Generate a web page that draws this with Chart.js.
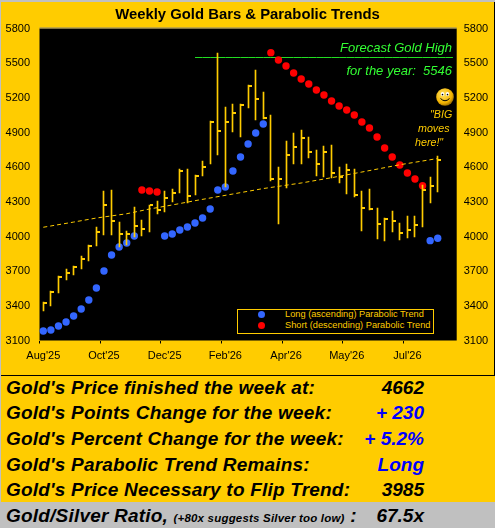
<!DOCTYPE html>
<html>
<head>
<meta charset="utf-8">
<title>Weekly Gold Bars &amp; Parabolic Trends</title>
<script src="https://cdn.jsdelivr.net/npm/chart.js@4"></script>
<style>
    html, body { margin: 0; padding: 0; background: #c0c0c0; }
    body { width: 495px; height: 528px; position: relative; overflow: hidden; font-family: "Liberation Sans", Arial, sans-serif; }
    #frame { position: absolute; left: 1px; top: 2px; width: 493px; height: 373px; background: #ffcc00; }
    #frame canvas { display: block; }
    #edge { position: absolute; left: 1px; top: 375px; width: 494px; height: 1px; background: #000; }
    #edgeR { position: absolute; left: 494px; top: 2px; width: 1px; height: 374px; background: #000; }
    .note { position: absolute; white-space: nowrap; font-style: italic; }
    .green { color: #33ff33; font-size: 13px; right: 43px; }
    .saying { color: #ffcc00; font-size: 10.7px; }
    #smiley { position: absolute; left: 436px; top: 88px; width: 18px; height: 18px; }
    #legendBox { position: absolute; left: 237px; top: 309px; width: 195px; height: 23px; border: 1px solid #ffcc00; background: #000; }
    .legendRow { position: absolute; left: 285px; color: #ffcc00; font-size: 9.25px; line-height: 11px; white-space: nowrap; }
    .legendDot { position: absolute; left: 258px; width: 7px; height: 7px; border-radius: 50%; }
    #panel { position: absolute; left: 1px; top: 376px; width: 494px; height: 126px; background: #ffcc00; }
    #ratioBand { position: absolute; left: 1px; top: 502px; width: 494px; height: 26px; background: #c0c0c0; }
    .row { position: absolute; left: 6px; font-size: 19px; line-height: 20px; letter-spacing: 0.2px; font-weight: bold; font-style: italic; color: #000; white-space: nowrap; }
    .val { position: absolute; right: 71px; font-size: 19px; line-height: 20px; font-weight: bold; font-style: italic; white-space: nowrap; color: #000; }
    .blue { color: #0000ff; }
    .small { font-size: 11.5px; }
</style>
</head>
<body>
<div id="frame"><canvas id="goldChart" width="493" height="373"></canvas></div>
<div id="edge"></div>
<div id="edgeR"></div>

<div class="note green" style="top:40px">Forecast Gold High</div>
<div class="note green" style="top:63px">for the year:&nbsp; 5546</div>
<svg id="smiley" viewBox="0 0 18 18">
    <defs><radialGradient id="sm" cx="40%" cy="35%" r="70%"><stop offset="0" stop-color="#ffe566"/><stop offset="0.7" stop-color="#f2b200"/><stop offset="1" stop-color="#8a6000"/></radialGradient></defs>
    <circle cx="9" cy="9" r="8.8" fill="url(#sm)"/>
    <ellipse cx="6.5" cy="6" rx="1.7" ry="1.9" fill="#fff"/><ellipse cx="11.5" cy="6" rx="1.7" ry="1.9" fill="#fff"/>
    <circle cx="6.5" cy="6.6" r="0.8" fill="#000"/><circle cx="11.5" cy="6.6" r="0.8" fill="#000"/>
    <path d="M4.5 10.5 Q9 15 13.5 10.5" stroke="#000" stroke-width="1" fill="none"/>
</svg>
<div class="note saying" style="left:430px;top:108px">"BIG</div>
<div class="note saying" style="left:418px;top:122px">moves</div>
<div class="note saying" style="left:415px;top:136px">here!"</div>

<div id="legendBox"></div>
<span class="legendDot" style="top:311px;background:#3366ff"></span>
<span class="legendDot" style="top:322px;background:#ff0000"></span>
<div class="legendRow" style="top:309px">Long (ascending) Parabolic Trend</div>
<div class="legendRow" style="top:320px">Short (descending) Parabolic Trend</div>

<div id="panel"></div>
<div id="ratioBand"></div>
<div class="row" style="top:378px">Gold's Price finished the week at:</div><div class="val" style="top:378px">4662</div>
<div class="row" style="top:403px">Gold's Points Change for the week:</div><div class="val blue" style="top:403px">+ 230</div>
<div class="row" style="top:429px">Gold's Percent Change for the week:</div><div class="val blue" style="top:429px">+ 5.2%</div>
<div class="row" style="top:455px">Gold's Parabolic Trend Remains:</div><div class="val blue" style="top:455px">Long</div>
<div class="row" style="top:480px">Gold's Price Necessary to Flip Trend:</div><div class="val" style="top:480px">3985</div>
<div class="row" style="top:506px">Gold/Silver Ratio, <span class="small">(+80x suggests Silver too low)</span> :</div><div class="val" style="top:506px">67.5x</div>

<script>
// x axis: 55 weekly slots, the last two stay empty
const categories = [
    "Aug'25", '', '', '', '', '', '', '',
    "Oct'25", '', '', '', '', '', '', '',
    "Dec'25", '', '', '', '', '', '', '',
    "Feb'26", '', '', '', '', '', '', '',
    "Apr'26", '', '', '', '', '', '', '',
    "May'26", '', '', '', '', '', '', '',
    "Jul'26", '', '', '', '', '', ''
];

const weekHighs = [3431, 3526, 3656, 3719, 3742, 3831, 3924, 4082, 4394, 4402, 4125, 4048, 4253, 4143, 4273, 4305, 4394, 4411, 4584, 4584, 4530, 4653, 5000, 5588, 5121, 5144, 5144, 5308, 5441, 5250, 5051, 4601, 4826, 4896, 4922, 4861, 4749, 4783, 4792, 4601, 4627, 4584, 4394, 4411, 4247, 4160, 4221, 4117, 4177, 4177, 4446, 4515, 4697];
const weekLows = [3355, 3399, 3511, 3624, 3667, 3719, 3788, 3918, 4016, 4016, 3912, 3926, 3993, 4004, 4039, 4195, 4209, 4299, 4376, 4292, 4359, 4524, 4627, 4705, 4431, 4904, 4861, 5112, 5008, 5019, 4483, 4108, 4420, 4627, 4627, 4679, 4524, 4515, 4506, 4463, 4368, 4342, 4048, 4229, 3978, 3961, 4039, 3970, 3987, 3996, 4082, 4290, 4385];
const weekCloses = [3425, 3522, 3647, 3687, 3733, 3803, 3920, 4041, 4275, 4134, 4024, 4019, 4093, 4067, 4270, 4229, 4333, 4379, 4569, 4353, 4524, 4601, 4993, 4913, 4993, 5071, 5140, 5305, 5190, 5025, 4500, 4500, 4705, 4774, 4852, 4731, 4627, 4731, 4550, 4517, 4575, 4359, 4247, 4235, 4108, 4149, 4134, 4030, 4056, 4099, 4402, 4437, 4662];

const longTrend = [3182, 3191, 3225, 3260, 3312, 3373, 3450, 3554, 3701, 3840, 3909, 3944, 4004, null, null, null, 4004, 4022, 4056, 4082, 4117, 4160, 4238, 4402, 4428, 4567, 4688, 4800, 4896, 4974, null, null, null, null, null, null, null, null, null, null, null, null, null, null, null, null, null, null, null, null, null, 3964, 3985];
const shortTrend = [null, null, null, null, null, null, null, null, null, null, null, null, null, 4402, 4394, 4385, null, null, null, null, null, null, null, null, null, null, null, null, null, null, 5591, 5527, 5475, 5415, 5363, 5320, 5268, 5225, 5173, 5129, 5095, 5051, 4991, 4939, 4861, 4766, 4688, 4619, 4550, 4498, 4440];

const trendWeeks = [0, 4, 7, 11, 14, 17, 20, 25, 29, 34, 38, 42, 47, 52];
const trendValues = [4080, 4125, 4160, 4197, 4238, 4273, 4310, 4368, 4415, 4463, 4509, 4558, 4621, 4675];

const forecastHigh = 5546;
const forecastFromWeek = 20;

const GOLD = '#ffcc00';
const FONT = '"Liberation Sans", Arial, sans-serif';

const trendLine = categories.map((c, i) => {
    const at = trendWeeks.indexOf(i);
    return at >= 0 ? trendValues[at] : null;
});
const forecastLine = categories.map((c, i) => (i >= forecastFromWeek ? forecastHigh : null));

// close tick sits on the right side of the high-low bar
const closeTick = document.createElement('canvas');
closeTick.width = 9;
closeTick.height = 2;
const tickCtx = closeTick.getContext('2d');
tickCtx.fillStyle = GOLD;
tickCtx.fillRect(5, 0, 3, 2);

// paints the plot area and keeps the 1px marks on whole pixels
const plotFrame = {
    id: 'plotFrame',
    beforeDraw(chart) {
        const { ctx, chartArea: a } = chart;
        ctx.save();
        ctx.fillStyle = '#000';
        ctx.fillRect(a.left, a.top, a.right - a.left, a.bottom - a.top);
        ctx.fillStyle = '#808080';
        ctx.fillRect(a.left, a.top - 1, a.right - a.left, 1);
        ctx.restore();
    },
    afterDatasetsUpdate(chart) {
        chart.getDatasetMeta(0).data.forEach(el => {
            el.x = Math.floor(el.x) + 0.5;
            el.y = Math.round(el.y);
            el.base = Math.round(el.base);
        });
        chart.getDatasetMeta(1).data.forEach(el => {
            el.x = Math.floor(el.x) + 0.5;
            el.y = Math.round(el.y);
        });
        chart.getDatasetMeta(3).data.forEach(el => {
            el.y = Math.floor(el.y) + 0.5;
        });
    }
};

const plainTick = value => String(value);

new Chart(document.getElementById('goldChart'), {
    type: 'bar',
    data: {
        labels: categories,
        datasets: [
            {
                label: 'High-Low',
                data: weekLows.map((low, i) => [low, weekHighs[i]]),
                backgroundColor: GOLD,
                borderWidth: 0,
                barThickness: 1,
                order: 2
            },
            {
                type: 'line',
                label: 'Close',
                data: weekCloses,
                showLine: false,
                pointStyle: closeTick,
                order: 1
            },
            {
                type: 'line',
                label: 'Trend',
                data: trendLine,
                spanGaps: true,
                borderColor: GOLD,
                borderWidth: 1,
                borderDash: [4, 3],
                pointRadius: 0,
                order: 0
            },
            {
                type: 'line',
                label: 'Forecast Gold High',
                data: forecastLine,
                borderColor: '#22dd22',
                borderWidth: 1,
                pointRadius: 0,
                order: 5
            },
            {
                type: 'line',
                label: 'Long (ascending) Parabolic Trend',
                data: longTrend,
                showLine: false,
                pointStyle: 'circle',
                pointRadius: 3.7,
                pointBackgroundColor: '#3366ff',
                pointBorderWidth: 0,
                order: 4
            },
            {
                type: 'line',
                label: 'Short (descending) Parabolic Trend',
                data: shortTrend,
                showLine: false,
                pointStyle: 'circle',
                pointRadius: 3.7,
                pointBackgroundColor: '#ff0000',
                pointBorderWidth: 0,
                order: 3
            }
        ]
    },
    options: {
        responsive: false,
        animation: false,
        layout: { padding: 0 },
        plugins: {
            legend: { display: false },
            tooltip: { enabled: false },
            title: {
                display: true,
                text: 'Weekly Gold Bars & Parabolic Trends',
                color: '#000',
                font: { family: FONT, size: 14.85, weight: 'bold', lineHeight: 1.2 },
                padding: { top: 4, bottom: 4.7 }
            }
        },
        scales: {
            x: {
                offset: true,
                afterFit(scale) { scale.height = 34.5; },
                grid: {
                    offset: true,
                    drawOnChartArea: false,
                    tickLength: 3,
                    tickColor: ctx => (categories[ctx.index] ? '#000' : 'rgba(0,0,0,0)')
                },
                border: { display: false },
                ticks: {
                    autoSkip: false,
                    maxRotation: 0,
                    minRotation: 0,
                    padding: 6,
                    color: '#000',
                    font: { family: FONT, size: 11 }
                }
            },
            y: {
                position: 'left',
                min: 3100,
                max: 5800,
                afterFit(scale) { scale.width = 38.5; },
                grid: { display: false, drawTicks: false },
                border: { display: false },
                ticks: {
                    stepSize: 300,
                    padding: 9.5,
                    color: '#000',
                    callback: plainTick,
                    font: { family: FONT, size: 11 }
                }
            },
            yRight: {
                position: 'right',
                min: 3100,
                max: 5800,
                afterFit(scale) { scale.width = 37.3; },
                grid: { display: false, drawTicks: false },
                border: { display: false },
                ticks: {
                    stepSize: 300,
                    padding: 7,
                    color: '#000',
                    callback: plainTick,
                    font: { family: FONT, size: 11 }
                }
            }
        }
    },
    plugins: [plotFrame]
});
</script>
</body>
</html>
